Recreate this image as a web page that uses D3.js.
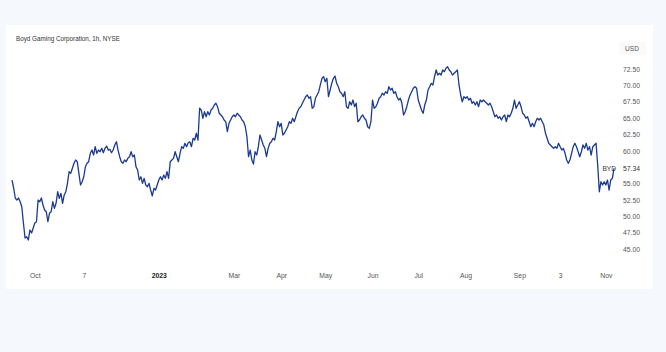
<!DOCTYPE html>
<html>
<head>
<meta charset="utf-8">
<script src="https://cdn.jsdelivr.net/npm/d3@7"></script>
<style>
  html, body { margin: 0; padding: 0; background: #f5f8fc; }
  svg { display: block; font-family: "Liberation Sans", Arial, sans-serif; }
</style>
</head>
<body>
<div id="chart"></div>
<script>
var prices = [
  55.54, 54.32, 52.79, 52.48, 52.79, 52.22, 51.46, 48.97, 46.68, 46.88,
  46.37, 47.90, 47.44, 48.20, 48.97, 49.17, 52.48, 52.22, 52.79, 51.72,
  50.96, 50.70, 49.17, 50.45, 50.70, 52.22, 51.21, 51.98, 53.75, 52.74,
  53.51, 51.98, 53.25, 53.75, 55.03, 56.81, 56.56, 57.33, 58.09, 58.60,
  58.34, 56.56, 54.78, 55.28, 56.04, 57.57, 58.09, 58.34, 59.62, 60.12,
  59.36, 60.63, 59.62, 60.12, 59.86, 60.38, 59.71, 60.38, 60.73, 60.12,
  60.23, 59.71, 60.12, 60.89, 61.39, 60.12, 59.10, 58.34, 58.09, 58.60,
  58.34, 58.85, 59.10, 59.86, 59.10, 59.36, 57.57, 57.07, 55.54, 56.04,
  55.03, 55.80, 54.78, 54.52, 55.03, 54.01, 53.10, 54.27, 54.01, 54.78,
  55.54, 56.04, 55.54, 56.30, 55.80, 56.81, 55.80, 58.34, 58.60, 58.85,
  59.86, 59.10, 58.34, 59.62, 60.63, 60.38, 61.15, 60.63, 61.24, 61.39,
  60.63, 61.91, 61.65, 62.68, 61.65, 66.50, 66.24, 64.97, 65.98, 65.21,
  65.98, 65.47, 66.24, 66.50, 67.00, 67.26, 66.74, 65.73, 65.47, 65.21,
  64.71, 64.45, 62.92, 64.20, 64.71, 65.21, 65.47, 65.21, 65.73, 65.47,
  65.21, 64.71, 64.45, 63.68, 62.16, 59.10, 60.12, 58.60, 57.98, 59.86,
  59.36, 60.63, 62.42, 61.65, 60.89, 60.38, 59.10, 60.38, 61.15, 61.39,
  61.91, 61.65, 62.92, 64.45, 63.68, 64.20, 62.42, 62.68, 63.18, 63.68,
  64.45, 64.20, 64.97, 64.45, 65.21, 65.98, 66.50, 66.74, 67.26, 67.76,
  68.27, 68.53, 68.02, 68.27, 66.50, 66.74, 68.02, 68.53, 69.03, 70.06,
  71.08, 71.32, 70.56, 71.08, 68.27, 69.29, 70.31, 71.08, 71.43, 70.31,
  69.80, 69.03, 68.79, 68.27, 69.03, 66.74, 66.50, 67.50, 67.00, 67.76,
  66.74, 67.26, 64.45, 64.71, 65.21, 65.47, 64.97, 64.71, 63.68, 63.44,
  64.45, 67.76, 66.50, 66.74, 67.26, 68.02, 68.27, 68.79, 68.53, 69.03,
  68.79, 69.80, 69.29, 69.55, 68.79, 69.03, 68.27, 67.76, 68.02, 67.26,
  65.47, 65.98, 66.74, 67.76, 68.53, 69.03, 69.55, 69.80, 69.55, 67.76,
  67.00, 66.24, 65.73, 67.00, 67.76, 69.29, 69.80, 70.31, 70.06, 71.32,
  72.35, 71.58, 71.84, 71.58, 72.35, 72.09, 72.61, 72.85, 72.35, 72.09,
  71.58, 71.84, 72.09, 72.35, 70.06, 68.53, 67.50, 68.27, 68.02, 68.27,
  67.76, 68.02, 67.26, 67.50, 67.00, 67.50, 66.74, 67.76, 67.50, 67.76,
  67.50, 67.26, 67.00, 67.26, 66.74, 65.98, 65.21, 65.47, 64.97, 65.21,
  64.71, 65.21, 65.47, 64.45, 65.47, 65.21, 65.73, 66.50, 67.76, 66.50,
  67.00, 67.50, 66.74, 65.73, 65.47, 64.97, 65.21, 64.45, 63.68, 64.20,
  63.68, 64.45, 64.97, 64.71, 64.97, 64.45, 63.94, 62.68, 61.91, 61.15,
  60.89, 60.63, 60.38, 60.63, 60.38, 61.15, 60.63, 60.12, 60.38, 59.62,
  58.60, 58.09, 58.60, 59.62, 60.63, 61.15, 60.63, 59.86, 59.10, 59.86,
  60.89, 60.38, 61.15, 60.12, 60.63, 59.36, 60.63, 60.89, 61.15, 57.83,
  53.75, 55.28, 54.78, 55.28, 54.78, 55.54, 54.01, 55.54, 55.80, 57.34
];

// time axis labels and the bar they sit on
var tickLabels = ["Oct", "7", "2023", "Mar", "Apr", "May", "Jun", "Jul", "Aug", "Sep", "3", "Nov"];
var tickBars   = [14, 44, 90, 136, 165, 192, 221, 249, 278, 311, 336, 364];
var boldTicks  = ["2023"];

// price axis
var priceTicks = [72.5, 70, 67.5, 65, 62.5, 60, 55, 52.5, 50, 47.5, 45];
var lastPrice = 57.34;
var symbol = "BYD";
var title = "Boyd Gaming Corporation, 1h, NYSE";

var width = 666, height = 352;

var svg = d3.select("#chart").append("svg")
   .attr("width", width)
   .attr("height", height);

// white card
svg.append("rect")
   .attr("x", 6)
   .attr("y", 25)
   .attr("width", 647)
   .attr("height", 264)
   .style("fill", "#ffffff");

var x = d3.scaleLinear()
   .domain([0, prices.length - 1])
   .range([12, 614]);

var y = d3.scaleLinear()
   .domain([45, 72.5])
   .range([249, 69]);

svg.append("text")
   .attr("x", 16)
   .attr("y", 40.5)
   .text(title)
   .style("font-size", "6.3px")
   .style("fill", "#333");

// x axis labels
var xAxis = d3.axisBottom(x)
   .tickValues(tickBars)
   .tickSize(0)
   .tickFormat((d, i) => tickLabels[i]);

var gx = svg.append("g")
   .attr("transform", "translate(0,270)")
   .call(xAxis);
gx.select(".domain").remove();
gx.selectAll("text")
   .style("font-family", "inherit")
   .style("font-size", "6.8px")
   .style("fill", d => boldTicks.indexOf(tickLabels[tickBars.indexOf(d)]) >= 0 ? "#222" : "#555")
   .style("font-weight", d => boldTicks.indexOf(tickLabels[tickBars.indexOf(d)]) >= 0 ? "bold" : "normal");

// y axis labels
var yAxis = d3.axisRight(y)
   .tickValues(priceTicks)
   .tickSize(0)
   .tickPadding(0)
   .tickFormat(d3.format(".2f"));

var gy = svg.append("g")
   .attr("transform", "translate(623,0)")
   .call(yAxis);
gy.select(".domain").remove();
gy.selectAll("text")
   .style("font-family", "inherit")
   .style("font-size", "6.8px")
   .style("fill", "#555");

svg.append("rect")
   .attr("x", 619)
   .attr("y", 42)
   .attr("width", 27)
   .attr("height", 13)
   .style("fill", "#fafafa");

svg.append("text")
   .attr("x", 632)
   .attr("y", 50.5)
   .attr("text-anchor", "middle")
   .text("USD")
   .style("font-size", "6.6px")
   .style("fill", "#555");

// the price line
var line = d3.line()
   .x((d, i) => x(i))
   .y(d => y(d));

svg.append("path")
   .datum(prices)
   .attr("d", line)
   .style("fill", "none")
   .style("stroke", "#1b3a91")
   .style("stroke-width", 1.3)
   .style("stroke-linejoin", "round");

// last value marker
svg.append("text")
   .attr("x", 616)
   .attr("y", y(lastPrice) + 2.3)
   .attr("text-anchor", "end")
   .text(symbol)
   .style("font-size", "6.6px")
   .style("fill", "#333");

svg.append("text")
   .attr("x", 623)
   .attr("y", y(lastPrice) + 2.3)
   .text(d3.format(".2f")(lastPrice))
   .style("font-size", "6.8px")
   .style("fill", "#333");
</script>
</body>
</html>
